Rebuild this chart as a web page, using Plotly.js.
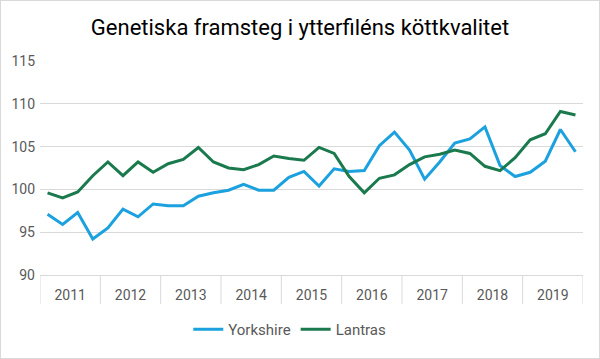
<!DOCTYPE html>
<html>
<head>
<meta charset="utf-8">
<script src="https://cdn.plot.ly/plotly-3.0.1.min.js"></script>
<style>
html,body{margin:0;padding:0;background:#fff;}
#chart{width:598px;height:357px;border:1px solid #d9d9d9;}
</style>
</head>
<body>
<div id="chart"></div>
<script>
const years = ["2011","2012","2013","2014","2015","2016","2017","2018","2019"];
const quartersPerYear = 4;
const yorkshire = [97.1, 95.9, 97.3, 94.2, 95.5, 97.7, 96.8, 98.3, 98.1, 98.1, 99.2, 99.6,
                   99.9, 100.6, 99.9, 99.9, 101.4, 102.1, 100.4, 102.4, 102.1, 102.2, 105.1, 106.7,
                   104.6, 101.2, 103.2, 105.4, 105.9, 107.3, 102.8, 101.5, 102.0, 103.3, 107.0, 104.4];
const lantras = [99.6, 99.0, 99.7, 101.6, 103.2, 101.6, 103.2, 102.0, 103.0, 103.5, 104.9, 103.2,
                 102.5, 102.3, 102.9, 103.9, 103.6, 103.4, 104.9, 104.2, 101.5, 99.6, 101.3, 101.7,
                 102.9, 103.8, 104.1, 104.6, 104.2, 102.7, 102.2, 103.7, 105.8, 106.5, 109.1, 108.7];
const yTicks = [90, 95, 100, 105, 110, 115];

const xIdx = yorkshire.map((_, i) => i);
const centers = years.map((_, k) => k * quartersPerYear + (quartersPerYear - 1) / 2);
const bounds = [];
for (let k = 0; k <= years.length; k++) bounds.push(k * quartersPerYear - 0.5);

const traces = [
  {x: xIdx, y: yorkshire, name: "Yorkshire", type: "scatter", mode: "lines",
   line: {color: "#1ba1de", width: 3}},
  {x: xIdx, y: lantras, name: "Lantras", type: "scatter", mode: "lines",
   line: {color: "#1a7a4d", width: 3}}
];

const shapes = bounds.map(b => ({
  type: "line", xref: "x", yref: "paper", x0: b, x1: b, y0: 0, y1: -0.135,
  line: {color: "#d9d9d9", width: 1}
}));

const layout = {
  width: 598, height: 357,
  margin: {l: 39, r: 16, t: 59.7, b: 74},
  paper_bgcolor: "#fff", plot_bgcolor: "#fff",
  font: {family: "Roboto, 'Open Sans', sans-serif", color: "#595959", size: 13},
  title: {text: "Genetiska framsteg i ytterfiléns köttkvalitet",
          font: {family: "Roboto, sans-serif", size: 22, color: "#000"},
          x: 0.5, xanchor: "center", y: 0.925, yanchor: "middle"},
  xaxis: {range: [-0.5, 35.5], tickvals: centers, ticktext: years, ticks: "",
          showgrid: false, zeroline: false, showline: true, linecolor: "#d9d9d9",
          tickfont: {size: 14, color: "#595959"}, ticklabelstandoff: 7, fixedrange: true},
  yaxis: {range: [90, 115], tickvals: yTicks, ticks: "", showgrid: true,
          gridcolor: "#d9d9d9", gridwidth: 1, zeroline: false, showline: false,
          tickfont: {size: 14, color: "#595959"}, ticklabelstandoff: 4, fixedrange: true},
  shapes: shapes,
  showlegend: true,
  legend: {orientation: "h", x: 0.46, xanchor: "center", y: -0.255, yanchor: "middle",
           font: {size: 15, color: "#595959"}, itemwidth: 30, bgcolor: "rgba(0,0,0,0)"}
};

Plotly.newPlot("chart", traces, layout, {displayModeBar: false, staticPlot: true});
</script>
</body>
</html>
